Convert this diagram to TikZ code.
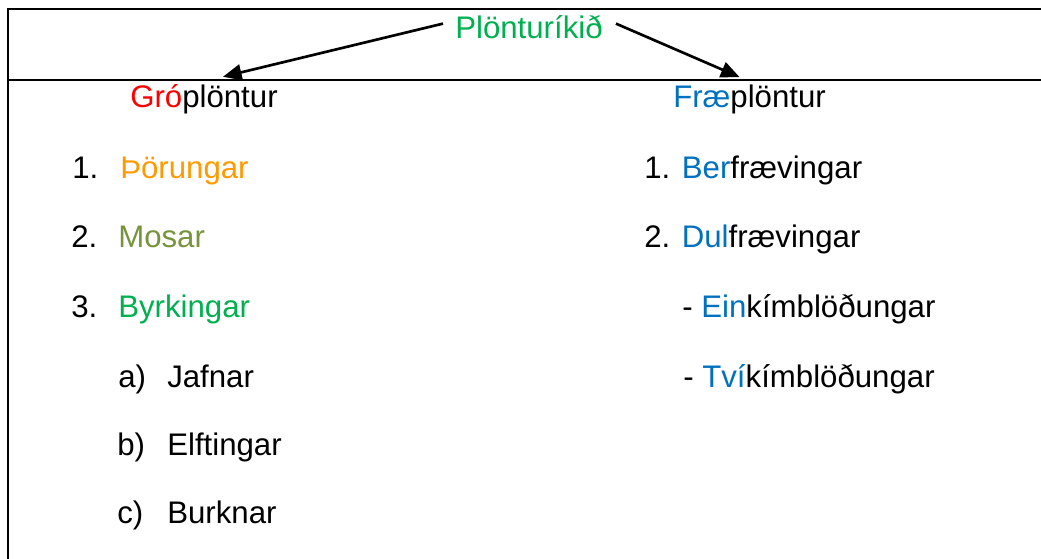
\documentclass[tikz,border=0pt]{standalone}
\usepackage{fontspec}
\setmainfont{Liberation Sans}
\usetikzlibrary{arrows.meta,calc}
\definecolor{cred}{HTML}{FF0000}
\definecolor{corange}{HTML}{FF9A00}
\definecolor{colive}{HTML}{77933C}
\definecolor{cgreen}{HTML}{00B050}
\definecolor{cblue}{HTML}{0070C0}
\tikzset{
  txt/.style={anchor=base west, inner sep=0pt, font=\fontsize{23.4}{28}\selectfont},
  frame/.style={line width=2.1pt, black},
  arr/.style={line width=2pt, -{Triangle[length=14pt,width=12pt]}},
}
\begin{document}
\begin{tikzpicture}[x=0.75pt,y=-0.75pt]
\useasboundingbox (0,0) rectangle (1041,559);
% frame
\draw[frame] (8,562) -- (8,9) -- (1045,9);
\draw[frame] (8,80) -- (1045,80);
% title
\node[txt, text=cgreen] (title) at (455,39) {Plönturíkið};
% headers
\node[txt] (gro) at (130,108) {\textcolor{cred}{Gró}plöntur};
\node[txt] (fra) at (673,108) {\textcolor{cblue}{Fræ}plöntur};
% arrows
\draw[arr] ($(title.west)+(-12,-4)$) -- ($(gro.north)+(19,-8)$);
\draw[arr] ($(title.east)+(13,-4)$) -- ($(fra.north)+(-10,-8)$);
% left list
\node[txt] (n1) at (72,179) {1.};
\node[txt, text=corange] (l1) at (120,179) {Þörungar};
\node[txt] (n2) at (71,248) {2.};
\node[txt, text=colive] (l2) at (118,248) {Mosar};
\node[txt] (n3) at (71,318) {3.};
\node[txt, text=cgreen] (l3) at (118,318) {Byrkingar};
\node[txt] (na) at (118,387) {a)};
\node[txt] (la) at (167,387) {Jafnar};
\node[txt] (nb) at (117,455) {b)};
\node[txt] (lb) at (167,455) {Elftingar};
\node[txt] (nc) at (117,523) {c)};
\node[txt] (lc) at (167,523) {Burknar};
% right list
\node[txt] (r1) at (644,179) {1. \textcolor{cblue}{Ber}frævingar};
\node[txt] (r2) at (644,248) {2. \textcolor{cblue}{Dul}frævingar};
\node[txt] (r3) at (682,318) {- \textcolor{cblue}{Ein}kímblöðungar};
\node[txt] (r4) at (683,387) {- \textcolor{cblue}{Tví}kímblöðungar};
\end{tikzpicture}
\end{document}
